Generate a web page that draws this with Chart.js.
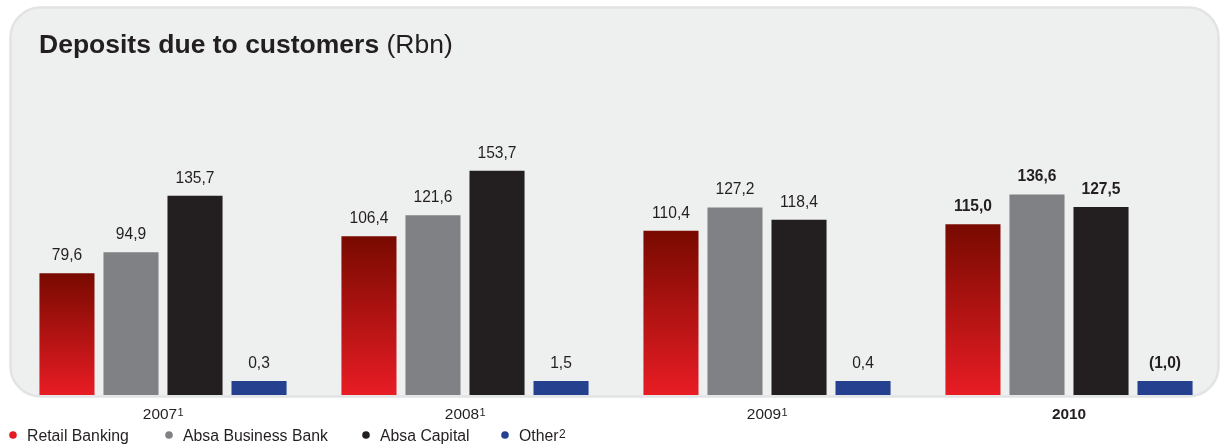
<!DOCTYPE html>
<html>
<head>
<meta charset="utf-8">
<script src="https://cdn.jsdelivr.net/npm/chart.js@4/dist/chart.umd.min.js"></script>
<style>
  html, body { margin: 0; padding: 0; background: #fff; }
  #wrap { position: relative; width: 1220px; height: 446px; }
</style>
</head>
<body>
<div id="wrap"><canvas id="deposits"></canvas></div>
<script>
const years = ['2007', '2008', '2009', '2010'];
const yearNotes = ['1', '1', '1', ''];
const retail = [79.6, 106.4, 110.4, 115.0];
const business = [94.9, 121.6, 127.2, 136.6];
const capital = [135.7, 153.7, 118.4, 127.5];
const other = [0.3, 1.5, 0.4, -1.0];

const FONT = '"Liberation Sans", Arial, sans-serif';
const TEXT = '#231f20';
const Y_MIN = -8.4;

const series = [
  { label: 'Retail Banking', data: retail, color: '#e31b23' },
  { label: 'Absa Business Bank', data: business, color: '#808184' },
  { label: 'Absa Capital', data: capital, color: '#231f20' },
  { label: 'Other', note: '2', data: other, color: '#25408f' }
];

// red bars fade from maroon at their top down to bright red
function retailFill(ctx) {
  const chart = ctx.chart;
  const area = chart.chartArea;
  if (!area || ctx.dataIndex == null) return '#e31b23';
  const top = chart.scales.y.getPixelForValue(ctx.raw);
  const g = chart.ctx.createLinearGradient(0, top, 0, area.bottom);
  g.addColorStop(0, '#780a00');
  g.addColorStop(1, '#e81c24');
  return g;
}

const fmt = v => {
  const s = Math.abs(v).toFixed(1).replace('.', ',');
  return v < 0 ? `(${s})` : s;
};

function roundRect(c, x, y, w, h, r) {
  c.beginPath();
  c.moveTo(x + r, y);
  c.arcTo(x + w, y, x + w, y + h, r);
  c.arcTo(x + w, y + h, x, y + h, r);
  c.arcTo(x, y + h, x, y, r);
  c.arcTo(x, y, x + w, y, r);
  c.closePath();
}

const panel = {
  id: 'panel',
  beforeDraw(chart) {
    const c = chart.ctx;
    c.save();
    roundRect(c, 10.5, 7.5, 1208, 389, 30);
    c.fillStyle = '#eeefef';
    c.fill();
    c.lineWidth = 2.5;
    c.strokeStyle = '#e2e3e5';
    c.stroke();

    c.textBaseline = 'alphabetic';
    c.fillStyle = TEXT;
    c.font = `bold 26.5px ${FONT}`;
    const head = 'Deposits due to customers';
    c.fillText(head, 39, 53);
    const w = c.measureText(head).width;
    c.font = `26.5px ${FONT}`;
    c.fillText(' (Rbn)', 39 + w, 53);
    c.restore();
  }
};

const annotations = {
  id: 'annotations',
  afterDatasetsDraw(chart) {
    const c = chart.ctx;
    const x = chart.scales.x;
    c.save();
    c.fillStyle = TEXT;
    c.textBaseline = 'alphabetic';

    // value labels above each bar
    chart.data.datasets.forEach((ds, di) => {
      chart.getDatasetMeta(di).data.forEach((bar, i) => {
        const last = i === years.length - 1;
        c.font = `${last ? 'bold ' : ''}15.6px ${FONT}`;
        c.textAlign = 'center';
        c.fillText(fmt(ds.data[i]), bar.x, bar.y - 13);
      });
    });

    // year labels with footnote markers
    years.forEach((yr, i) => {
      const cx = x.getPixelForValue(i);
      const last = i === years.length - 1;
      const main = `${last ? 'bold ' : ''}15.4px ${FONT}`;
      c.font = main;
      const w1 = c.measureText(yr).width;
      c.font = `11px ${FONT}`;
      const w2 = yearNotes[i] ? c.measureText(yearNotes[i]).width : 0;
      const x0 = cx - (w1 + w2) / 2;
      c.textAlign = 'left';
      c.font = main;
      c.fillText(yr, x0, 419);
      if (yearNotes[i]) {
        c.font = `11px ${FONT}`;
        c.fillText(yearNotes[i], x0 + w1 + 0.5, 416);
      }
    });

    // legend row
    const legendX = [13, 169, 366, 505];
    series.forEach((s, i) => {
      const lx = legendX[i];
      c.beginPath();
      c.arc(lx, 435, 3.8, 0, Math.PI * 2);
      c.fillStyle = s.color;
      c.fill();
      c.fillStyle = TEXT;
      c.font = `15.8px ${FONT}`;
      c.textAlign = 'left';
      c.fillText(s.label, lx + 14, 441);
      if (s.note) {
        const w = c.measureText(s.label).width;
        c.font = `12px ${FONT}`;
        c.fillText(s.note, lx + 14 + w + 0.5, 438);
      }
    });
    c.restore();
  }
};

new Chart(document.getElementById('deposits'), {
  type: 'bar',
  data: {
    labels: years,
    datasets: series.map((s, i) => ({
      label: s.label,
      data: s.data,
      backgroundColor: i === 0 ? retailFill : s.color,
      base: Y_MIN,
      minBarLength: i === 3 ? 14 : 0,
      borderWidth: 0,
      categoryPercentage: 0.848,
      barPercentage: 0.86
    }))
  },
  options: {
    responsive: true,
    maintainAspectRatio: false,
    animation: false,
    layout: { padding: { left: 12, right: 0, top: 120.6, bottom: 51 } },
    plugins: { legend: { display: false }, tooltip: { enabled: false } },
    scales: {
      x: { display: false },
      y: { display: false, min: Y_MIN, max: 190 }
    }
  },
  plugins: [panel, annotations]
});
</script>
</body>
</html>
